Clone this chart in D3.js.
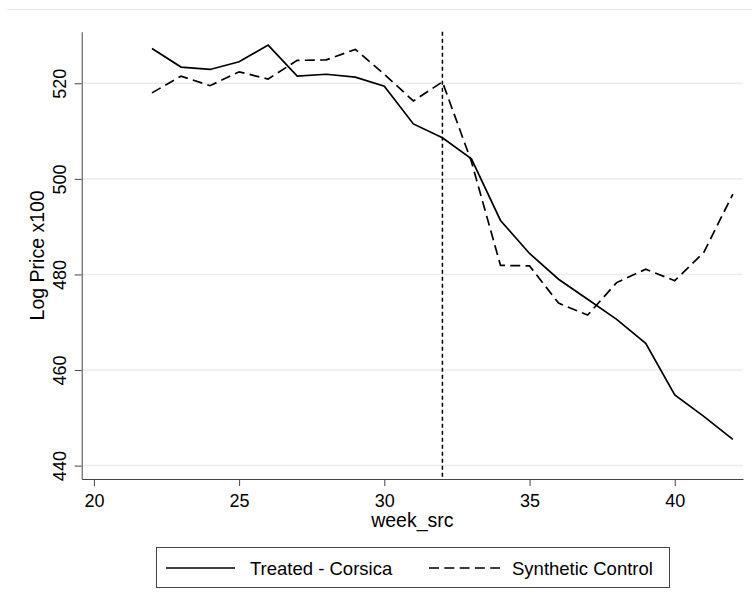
<!DOCTYPE html>
<html>
<head>
<meta charset="utf-8">
<script src="https://cdn.jsdelivr.net/npm/d3@7"></script>
<style>
  html, body { margin: 0; padding: 0; background: white; }
  svg { display: block; font-family: "Liberation Sans", Arial, sans-serif; }
</style>
</head>
<body>
<div id="chart"></div>
<script>
const width = 752;
const height = 611;

const weeks = [22, 23, 24, 25, 26, 27, 28, 29, 30, 31, 32, 33, 34, 35, 36, 37, 38, 39, 40, 41, 42];
const treated = [527.3, 523.4, 522.9, 524.5, 528.0, 521.5, 521.9, 521.3, 519.4, 511.5, 508.6, 504.2,
  491.3, 484.4, 479.0, 474.8, 470.6, 465.6, 454.8, 450.3, 445.5];
const synthetic = [518.0, 521.5, 519.5, 522.4, 520.9, 524.8, 524.9, 527.1, 521.9, 516.3, 520.3, 503.6,
  481.9, 481.8, 474.0, 471.5, 478.3, 481.1, 478.7, 484.6, 496.8];
const xTicks = [20, 25, 30, 35, 40];
const yTicks = [440, 460, 480, 500, 520];
const treatmentWeek = 32;

const series = [
  { title: "Treated - Corsica", values: treated, dash: null },
  { title: "Synthetic Control", values: synthetic, dash: "10,5.3" }
];

const plot = { left: 81.7, right: 743, top: 31.7, bottom: 479 };

const x = d3.scaleLinear([19.58, 42.35], [plot.left, plot.right]);
const y = d3.scaleLinear([437.2, 530.8], [plot.bottom, plot.top]);

const svg = d3.select("#chart").append("svg")
  .attr("width", width)
  .attr("height", height);

// outer graph region edge
svg.append("line")
  .attr("x1", 7).attr("x2", width)
  .attr("y1", 9.5).attr("y2", 9.5)
  .attr("stroke", "#e4e8ea");

// gridlines
svg.append("g")
  .selectAll("line")
  .data(yTicks)
  .join("line")
  .attr("x1", plot.left).attr("x2", plot.right)
  .attr("y1", d => y(d)).attr("y2", d => y(d))
  .attr("stroke", "#e6eef1")
  .attr("stroke-width", 1.5);

// axes
const xAxis = svg.append("g")
  .attr("transform", `translate(0,${plot.bottom})`)
  .call(d3.axisBottom(x).tickValues(xTicks).tickSize(7).tickPadding(8).tickSizeOuter(0));
xAxis.select(".domain").attr("stroke", "#444");
xAxis.selectAll(".tick line").attr("stroke", "#444");
xAxis.selectAll(".tick text").attr("font-size", 18).attr("fill", "#000").attr("font-family", null);

const yAxis = svg.append("g")
  .attr("transform", `translate(${plot.left},0)`)
  .call(d3.axisLeft(y).tickValues(yTicks).tickSize(7).tickSizeOuter(0));
yAxis.select(".domain").attr("stroke", "#444");
yAxis.selectAll(".tick line").attr("stroke", "#444");
yAxis.selectAll(".tick text")
  .attr("font-size", 18)
  .attr("fill", "#000")
  .attr("font-family", null)
  .attr("x", null).attr("dy", null)
  .attr("text-anchor", "middle")
  .attr("transform", "translate(-16,0) rotate(-90)");

// axis titles
svg.append("text")
  .attr("x", (plot.left + plot.right) / 2)
  .attr("y", 527)
  .attr("text-anchor", "middle")
  .attr("font-size", 19.5)
  .text("week_src");

svg.append("text")
  .attr("transform", `translate(44,${(plot.top + plot.bottom) / 2}) rotate(-90)`)
  .attr("text-anchor", "middle")
  .attr("font-size", 19.5)
  .text("Log Price x100");

// treatment marker
svg.append("line")
  .attr("x1", x(treatmentWeek)).attr("x2", x(treatmentWeek))
  .attr("y1", plot.top).attr("y2", plot.bottom)
  .attr("stroke", "#000")
  .attr("stroke-width", 1.5)
  .attr("stroke-dasharray", "4,3");

// series
const line = d3.line()
  .x((v, i) => x(weeks[i]))
  .y(v => y(v));

svg.append("g")
  .selectAll("path")
  .data(series)
  .join("path")
  .attr("fill", "none")
  .attr("stroke", "#000")
  .attr("stroke-width", 1.7)
  .attr("stroke-dasharray", d => d.dash)
  .attr("d", d => line(d.values));

// legend
const legend = svg.append("g");
legend.append("rect")
  .attr("x", 156.5).attr("y", 547.5)
  .attr("width", 513).attr("height", 40)
  .attr("fill", "white")
  .attr("stroke", "#444");

const legendItems = [
  { x0: 166, x1: 235, tx: 250 },
  { x0: 429, x1: 500, tx: 512 }
];
legend.selectAll("g.item")
  .data(series)
  .join("g")
  .attr("class", "item")
  .each(function (d, i) {
    const g = d3.select(this);
    const p = legendItems[i];
    g.append("line")
      .attr("x1", p.x0).attr("x2", p.x1)
      .attr("y1", 568).attr("y2", 568)
      .attr("stroke", "#000")
      .attr("stroke-width", 1.7)
      .attr("stroke-dasharray", d.dash);
    g.append("text")
      .attr("x", p.tx).attr("y", 574.5)
      .attr("font-size", 18.5)
      .text(d.title);
  });
</script>
</body>
</html>
